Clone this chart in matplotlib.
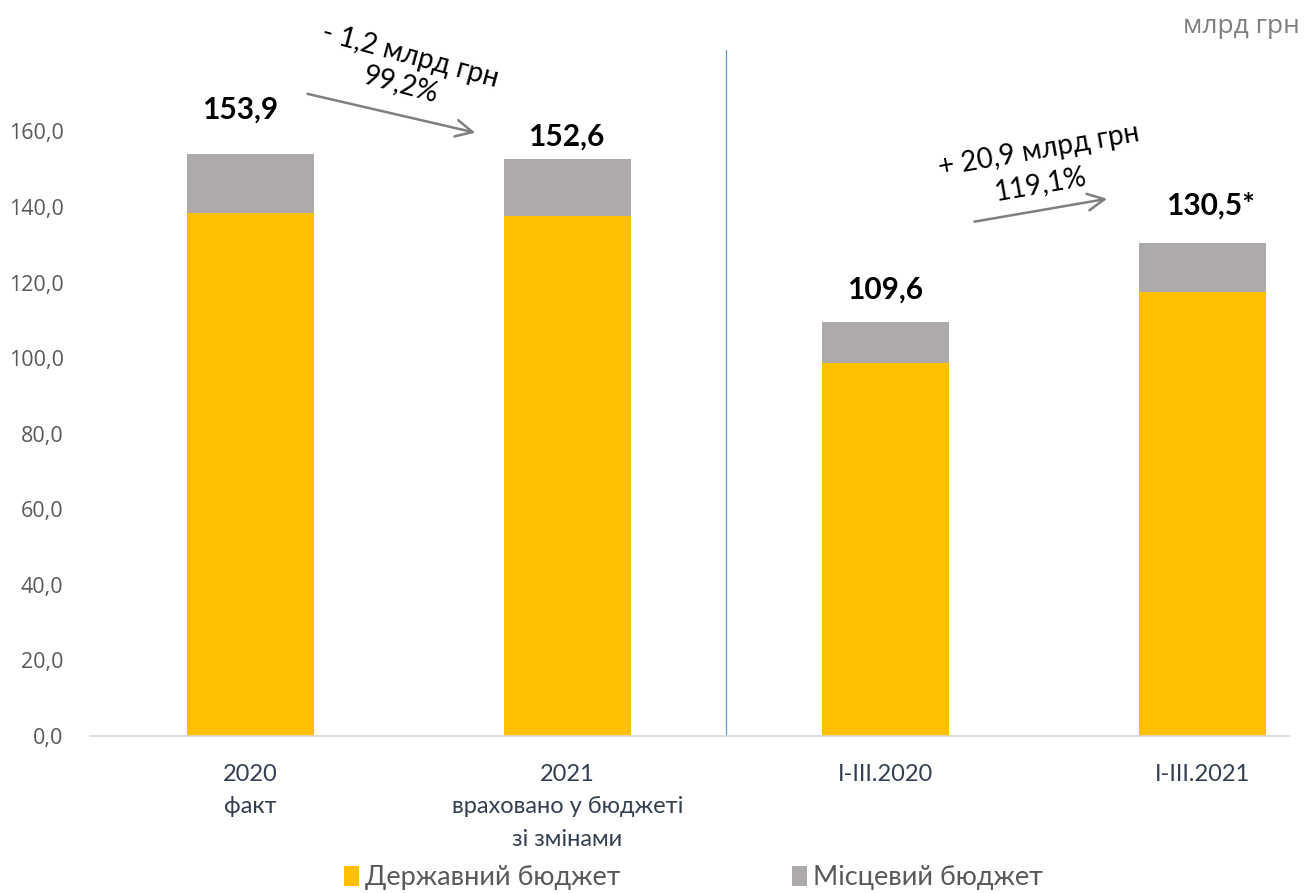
import matplotlib
matplotlib.use('Agg')
import matplotlib.pyplot as plt
import numpy as np

categories = ['2020\nфакт', '2021\nвраховано у бюджеті\nзі змінами', 'I-III.2020', 'I-III.2021']
state_budget = [138.4, 137.7, 98.6, 117.5]
local_budget = [15.5, 14.9, 11.0, 13.0]
total_labels = ['153,9', '152,6', '109,6', '130,5*']
label_offsets = [12.0, 6.0, 8.5, 10.0]
label_shift = [-0.03, -0.005, 0.0, 0.025]
yticks = [0, 20, 40, 60, 80, 100, 120, 140, 160]

narrow = ['Lato', 'DejaVu Sans']
tickfont = ['Open Sans', 'DejaVu Sans']

fig = plt.figure(figsize=(13.06, 8.93), dpi=100)
ax = fig.add_axes([0.0689, 0.1758, 0.9188, 0.768])

x = np.arange(len(categories))
totals = np.array(state_budget) + np.array(local_budget)
ax.bar(x, state_budget, width=0.4, color='#FFC000', label='Державний бюджет', zorder=2)
ax.bar(x, local_budget, width=0.4, bottom=state_budget, color='#AEAAAA',
       label='Місцевий бюджет', zorder=2)

for xi, t, lab, off, sh in zip(x, totals, total_labels, label_offsets, label_shift):
    ax.text(xi + sh, t + off, lab, ha='center', va='center', fontsize=21.5,
            fontweight='bold', family=narrow, color='black')

ax.set_xlim(-0.504, 3.275)
ax.set_ylim(0, 181.5)
ax.set_yticks(yticks)
ax.set_yticklabels([f'{v:.1f}'.replace('.', ',') for v in yticks],
                   family=tickfont, fontsize=15.5, color='#595959')
ax.set_xticks(x)
ax.set_xticklabels(categories, family=narrow, fontsize=17, color='#333F50',
                   linespacing=1.68, va='top')
ax.tick_params(axis='both', length=0)
ax.tick_params(axis='y', pad=19)
ax.tick_params(axis='x', pad=20)

for s in ['top', 'right', 'left']:
    ax.spines[s].set_visible(False)
ax.spines['bottom'].set_color('#D9D9D9')
ax.spines['bottom'].set_linewidth(1.2)

ax.axvline(1.5, ymin=0, ymax=1, color='#5B9BD5', lw=0.9, zorder=1)

# change arrows
ax.annotate('', xy=(0.718, 159.5), xytext=(0.173, 170.1),
            arrowprops=dict(arrowstyle='->', color='#7F7F7F', lw=1.8,
                            mutation_scale=30))
ax.text(0.505, 180.0, '- 1,2 млрд грн', rotation=-15, ha='center', va='center',
        fontsize=20, family=narrow, color='black')
ax.text(0.475, 172.5, '99,2%', rotation=-15, ha='center', va='center',
        fontsize=20, family=narrow, color='black')

ax.annotate('', xy=(2.708, 142.3), xytext=(2.273, 136.0),
            arrowprops=dict(arrowstyle='->', color='#7F7F7F', lw=1.8,
                            mutation_scale=30))
ax.text(2.485, 155.0, '+ 20,9 млрд грн', rotation=10, ha='center', va='center',
        fontsize=20, family=narrow, color='black')
ax.text(2.49, 146.0, '119,1%', rotation=10, ha='center', va='center',
        fontsize=20, family=narrow, color='black')

fig.text(0.995, 0.970, 'млрд грн', ha='right', va='center', fontsize=19,
         family=tickfont, color='#7F7F7F')

leg = fig.legend(loc='lower center', bbox_to_anchor=(0.531, -0.024), ncol=2,
                 frameon=False, handlelength=0.55, handleheight=0.75,
                 handletextpad=0.25, columnspacing=6.3,
                 prop={'family': narrow, 'size': 19.5})
for t in leg.get_texts():
    t.set_color('#595959')

fig.savefig('out.png', dpi=100)
